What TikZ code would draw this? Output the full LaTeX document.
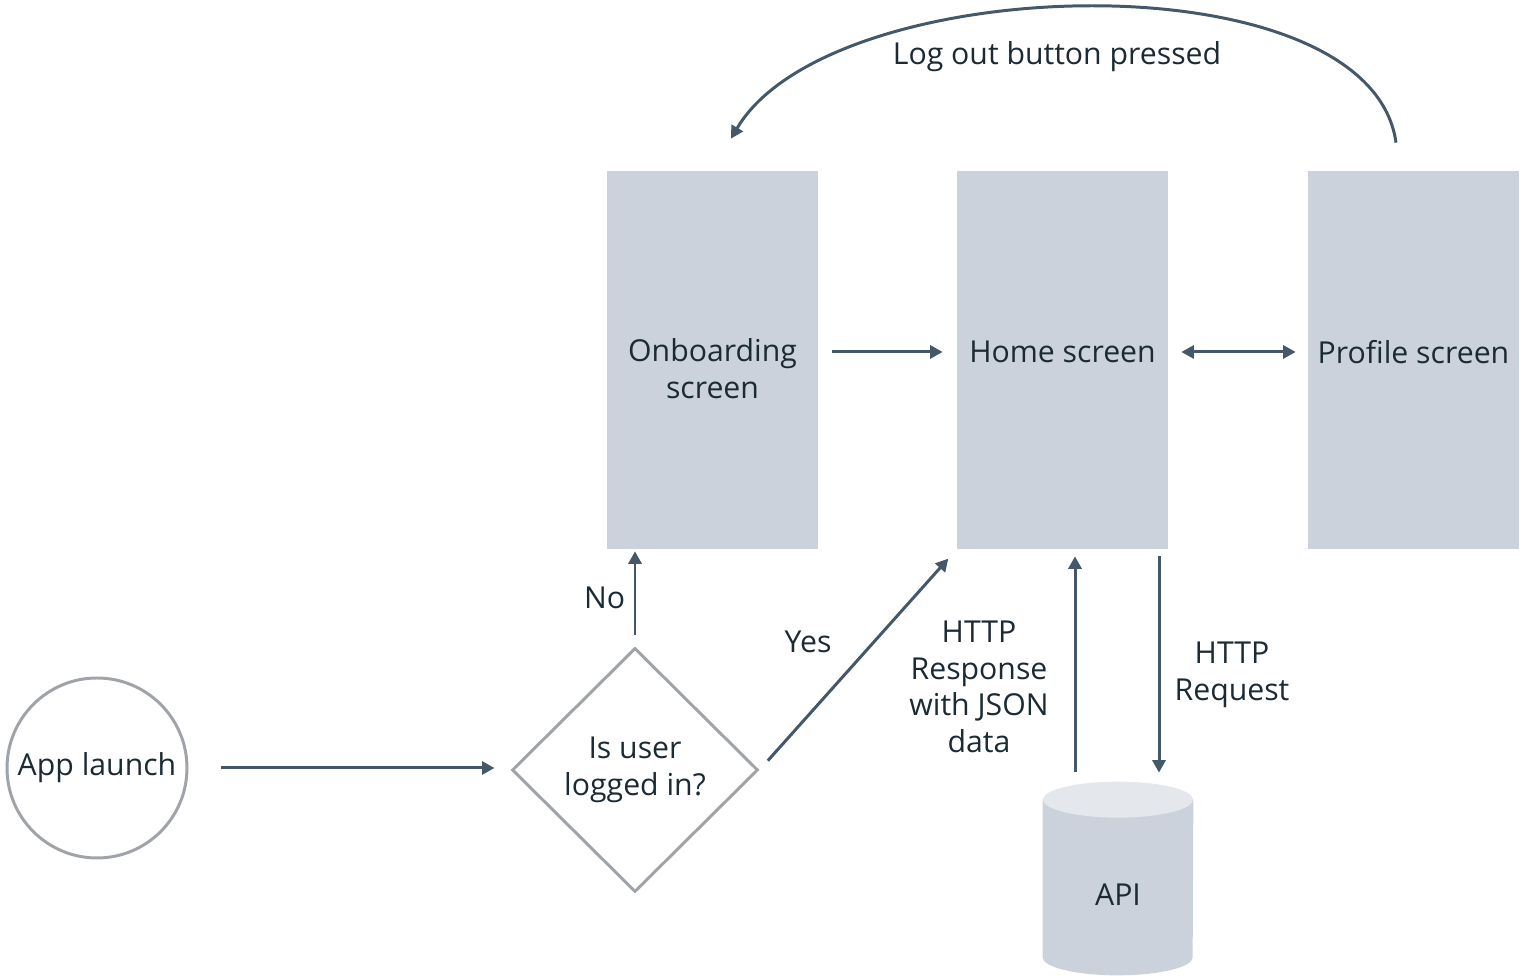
\documentclass[tikz,border=0pt]{standalone}
\usepackage{fontspec}
\setmainfont{Open Sans}
\usepackage{xcolor}
\usepackage{tikz}
\usetikzlibrary{shapes,arrows,positioning,calc,arrows.meta}

\definecolor{screenfill}{HTML}{CBD2DB}
\definecolor{apitop}{HTML}{E4E7EB}
\definecolor{flowline}{HTML}{455869}
\definecolor{outline}{HTML}{A0A4A8}
\definecolor{txt}{HTML}{1C2B33}

\begin{document}
\begin{tikzpicture}[
    font=\fontsize{17.2}{20.8}\selectfont, text=txt,
    screen/.style={rectangle, fill=screenfill, minimum width=4.22cm, minimum height=7.56cm, inner sep=0pt},
    flow/.style={draw=flowline, line width=1.7pt, -{Triangle[length=2.5mm,width=2.6mm]}},
    outlined/.style={draw=outline, line width=1.7pt, align=center}
]
    \useasboundingbox (0,0) rectangle (30.56,19.52);

    % Screens
    \node[screen, label={[align=center, yshift=-0.17cm]center:Onboarding\\screen}] (onb) at (14.25,12.32) {};
    \node[screen, label={[yshift=0.16cm]center:Home screen}] (home) at (21.25,12.32) {};
    \node[screen, label={[yshift=0.16cm]center:Profile screen}] (profile) at (28.27,12.32) {};

    % Start and decision
    \node[outlined, circle, minimum size=3.6cm, inner sep=0pt] (launch) at (1.94,4.16) {App launch};
    \node[outlined, diamond, minimum width=4.92cm, minimum height=4.88cm, inner sep=0pt] (check) at (12.7,4.12) {Is user\\logged in?};

    % API (cylinder)
    \node[minimum width=3cm, minimum height=3.86cm, inner sep=0pt] (api) at (22.36,1.95) {};
    \fill[screenfill] ([yshift=-0.36cm]api.north west) -- ([yshift=0.36cm]api.south west)
        arc[start angle=180, end angle=360, x radius=1.5cm, y radius=0.36cm] -- ([yshift=-0.36cm]api.north east) -- cycle;
    \fill[apitop] ([yshift=-0.36cm]api.north) ellipse[x radius=1.5cm, y radius=0.36cm];
    \node (apilabel) at ([yshift=-0.33cm]api.center) {API};

    % Flow
    \draw[flow, shorten <=0.66cm, shorten >=0.32cm] (launch.east) -- (launch.east -| check.west);
    \draw[flow, shorten <=0.22cm, shorten >=0.04cm] (check.north) -- (onb.south -| check.north) node[midway, left=0.05cm] {No};
    \draw[flow, shorten <=0.25cm, shorten >=0.25cm] (check.east) -- (home.south west) node[pos=0.58, left=0.7cm] {Yes};
    \draw[flow, shorten <=0.28cm, shorten >=0.28cm] ([yshift=0.16cm]onb.east) -- ([yshift=0.16cm]home.west);
    \draw[flow, {Triangle[length=2.5mm,width=2.6mm]}-{Triangle[length=2.5mm,width=2.6mm]}, shorten <=0.26cm, shorten >=0.24cm] ([yshift=0.16cm]home.east) -- ([yshift=0.16cm]profile.west);

    % HTTP
    \draw[flow, shorten <=0.2cm, shorten >=0.14cm] ([xshift=-0.86cm]api.north) -- ([xshift=-0.86cm]api.north |- home.south);
    \node[align=center] (resp) at (19.58,5.78) {HTTP\\Response\\with JSON\\data};
    \draw[flow, shorten <=0.14cm, shorten >=0.18cm] ([xshift=0.82cm]api.north |- home.south) -- ([xshift=0.82cm]api.north);
    \node[align=center] (req) at (24.64,6.02) {HTTP\\Request};

    % Log out
    \coordinate (out) at ([xshift=-0.35cm,yshift=0.56cm]profile.north);
    \coordinate (back) at ([xshift=0.37cm,yshift=0.64cm]onb.north);
    \draw[flow] (out) .. controls (27.4,20.42) and (16.6,20.12) .. (back);
    \node (logout) at (21.14,18.38) {Log out button pressed};
\end{tikzpicture}
\end{document}
